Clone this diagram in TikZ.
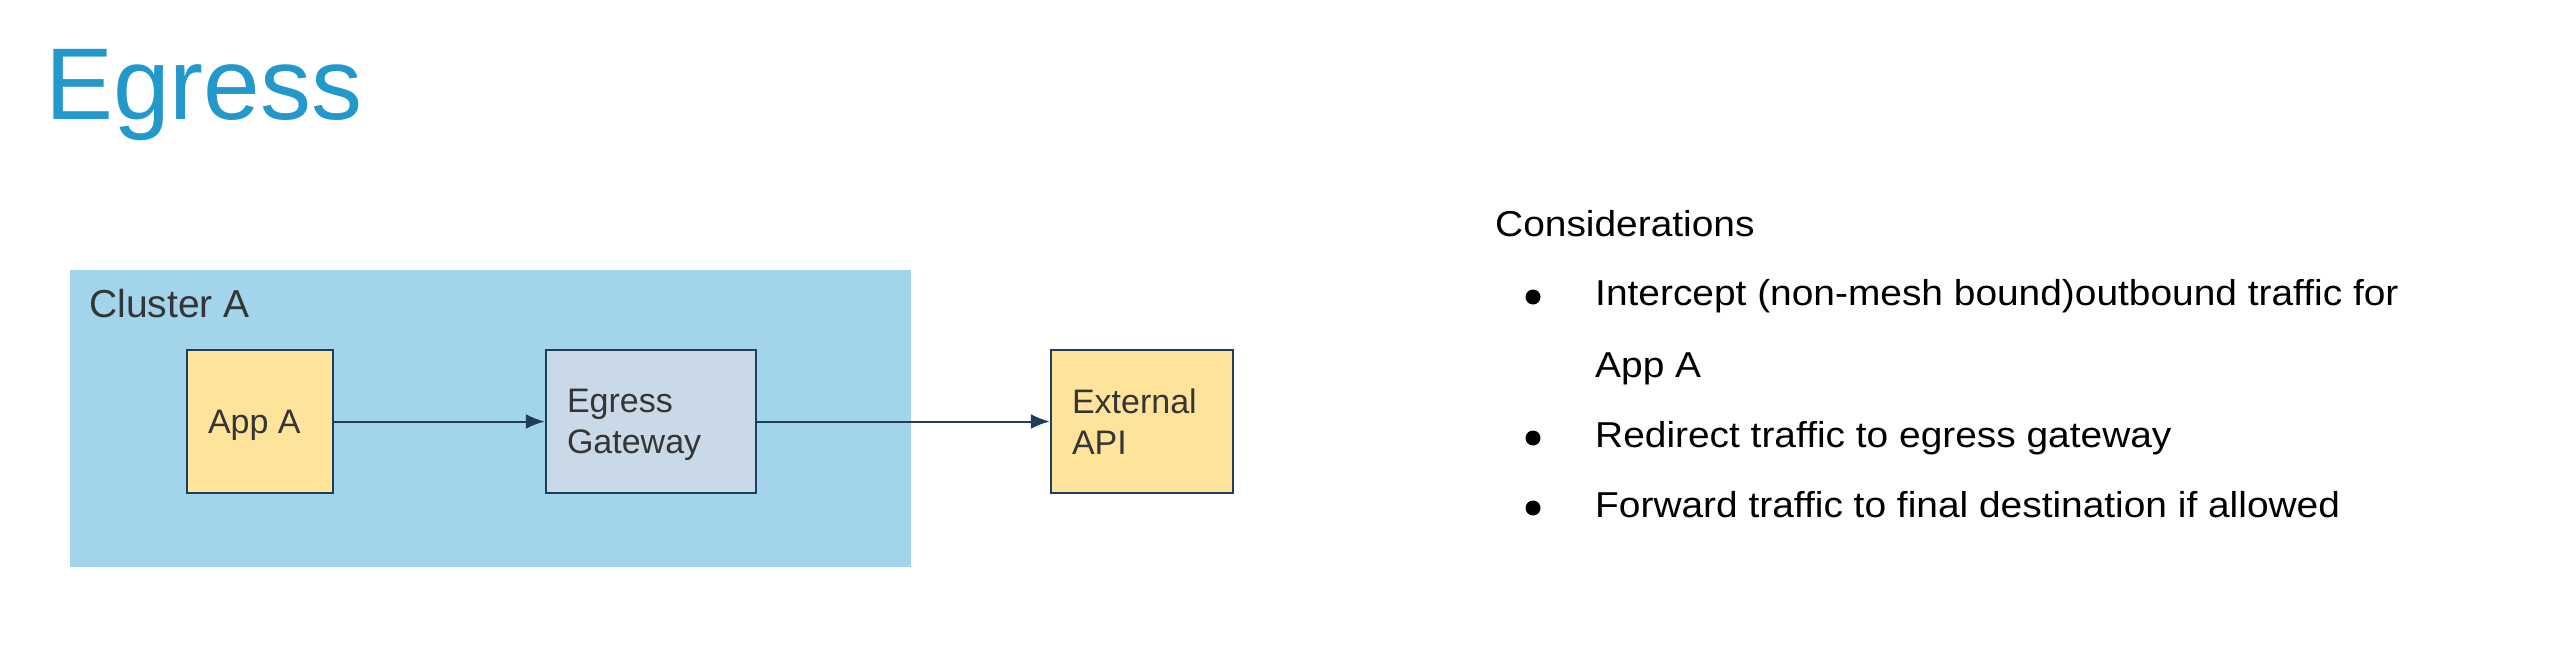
\documentclass[tikz,border=0pt]{standalone}
\usepackage{fontspec}
\setmainfont{Liberation Sans}
\newfontfamily\widefont[FakeStretch=1.08]{Liberation Sans}
\usetikzlibrary{arrows.meta}
\definecolor{titleblue}{HTML}{2398CB}
\definecolor{clusterfill}{HTML}{A2D5EC}
\definecolor{appyellow}{HTML}{FEE49A}
\definecolor{gwfill}{HTML}{C9D9E8}
\definecolor{edgeblue}{HTML}{203D5C}
\definecolor{darktext}{HTML}{353535}
\tikzset{
  box/.style={draw=edgeblue, line width=2.5pt, minimum height=143pt, inner xsep=21pt, inner ysep=0pt,
    align=flush left, text=darktext, font=\fontsize{34}{41}\selectfont},
  oneline/.style={text depth=0pt},
  twoline/.style={text depth=41pt},
  flow/.style={draw=edgeblue, line width=2pt, -{Latex[length=19pt,width=15pt]}},
  bullettxt/.style={anchor=base west, inner sep=0pt, font=\widefont\fontsize{36}{40}\selectfont, text=black},
  bulletdot/.style={circle, fill=black, inner sep=0pt, minimum size=15pt}
}
\begin{document}
\begin{tikzpicture}[x=1pt,y=-1pt]
\useasboundingbox[fill=white] (0,0) rectangle (2552,648);
% title
\node[anchor=base west, inner sep=0pt, text=titleblue, font=\fontsize{102}{110}\selectfont] (title) at (45,119) {Egress};
% cluster
\fill[clusterfill] (69.5,270) rectangle (911,566.5);
\node[anchor=base west, inner sep=0pt, text=darktext, font=\fontsize{39}{44}\selectfont] (cluster) at (89,317) {Cluster A};
% boxes
\node[box, oneline, fill=appyellow, text width=104pt] (app) at (260,421.5) {App A};
\node[box, twoline, fill=gwfill, text width=168pt] (gw) at (651,421.5) {Egress\\Gateway};
\node[box, twoline, fill=appyellow, text width=140pt] (ext) at (1142,421.5) {External\\API};
% connectors
\draw[flow] (app.east) -- (gw.west);
\draw[flow] (gw.east) -- (ext.west);
% considerations
\node[bullettxt] (cons) at (1495,236) {Considerations};
\node[bulletdot] (b1) at (1533,297) {};
\node[bullettxt] (t1) at (1595,305) {Intercept (non-mesh bound)outbound traffic for};
\node[bullettxt] (t1b) at (1595,377) {App A};
\node[bulletdot] (b2) at (1533,438) {};
\node[bullettxt] (t2) at (1595,447) {Redirect traffic to egress gateway};
\node[bulletdot] (b3) at (1533,508) {};
\node[bullettxt] (t3) at (1595,517) {Forward traffic to final destination if allowed};
\end{tikzpicture}
\end{document}
